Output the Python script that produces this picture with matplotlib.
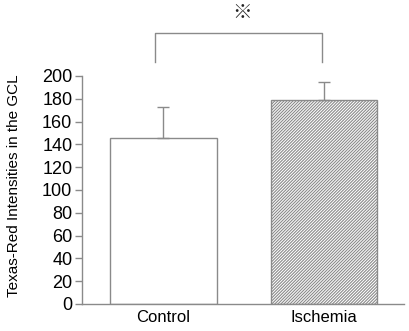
import matplotlib
matplotlib.use("Agg")
import matplotlib.pyplot as plt

plt.rcParams["font.family"] = ["Liberation Sans", "DejaVu Sans"]
plt.rcParams["hatch.color"] = "#404040"
plt.rcParams["hatch.linewidth"] = 0.8

groups = ["Control", "Ischemia"]
means = [146, 179]
errors = [27, 16]
yticks = [0, 20, 40, 60, 80, 100, 120, 140, 160, 180, 200]

gray = "#8a8a8a"

fig = plt.figure(figsize=(4.10, 3.31), dpi=100)
ax = fig.add_axes([0.2, 0.0816, 0.785, 0.6888])

x = [0, 1]
ax.bar(x[0], means[0], width=0.66, color="white", edgecolor=gray, linewidth=1.0)
ax.bar(x[1], means[1], width=0.66, color="white", edgecolor=gray, linewidth=1.0,
       hatch="/" * 11)
ax.errorbar(x, means, yerr=[[0, 0], errors], fmt="none", ecolor=gray,
            elinewidth=1.0, capsize=4, capthick=1.0)

ax.set_xlim(-0.506, 1.494)
ax.set_ylim(0, 200)
ax.set_yticks(yticks)
ax.set_xticks(x)
ax.set_xticklabels(groups, fontsize=12)
ax.tick_params(axis="y", labelsize=13, length=5, color=gray, width=1.0, pad=2)
ax.tick_params(axis="x", length=0, pad=4)
ax.set_ylabel("Texas-Red Intensities in the GCL", fontsize=11)
ax.yaxis.set_label_coords(-0.19, 0.52)

for side in ["top", "right"]:
    ax.spines[side].set_visible(False)
for side in ["left", "bottom"]:
    ax.spines[side].set_color(gray)
    ax.spines[side].set_linewidth(1.0)

# significance bracket
ax.plot([-0.05, -0.05, 0.985, 0.985], [212, 238, 238, 212], color=gray,
        linewidth=1.0, clip_on=False)
ax.text(0.49, 256, "※", ha="center", va="center", fontsize=14,
        family=["Noto Sans CJK JP", "DejaVu Sans"], color="#222222")

fig.savefig("out.png", dpi=100)
